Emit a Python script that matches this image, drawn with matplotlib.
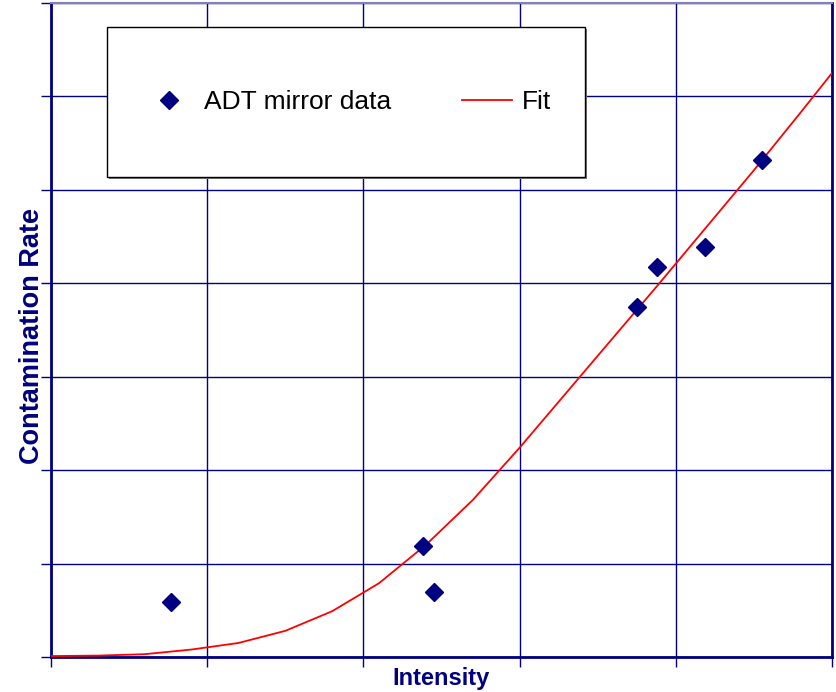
import matplotlib
matplotlib.use("Agg")
import matplotlib.pyplot as plt
from matplotlib.patches import Rectangle
from matplotlib.transforms import offset_copy

# measured points (arbitrary units, no tick labels on original)
data_x = [0.77, 2.38, 2.45, 3.75, 3.88, 4.19, 4.55]
data_y = [0.59, 1.19, 0.70, 3.75, 4.17, 4.39, 5.32]

# fit curve, sampled every 0.3
fit_x = [0.0, 0.3, 0.6, 0.9, 1.2, 1.5, 1.8, 2.1, 2.4, 2.7, 3.0, 3.3, 3.6,
         3.9, 4.2, 4.5, 4.8, 5.1]
fit_y = [0.01, 0.015, 0.03, 0.08, 0.15, 0.28, 0.49, 0.79, 1.2, 1.68, 2.24,
         2.83, 3.42, 4.01, 4.61, 5.21, 5.83, 6.46]

navy = "#000080"
plt.rcParams["font.family"] = ["Liberation Sans", "DejaVu Sans"]

fig = plt.figure(figsize=(8.37, 6.92), dpi=100)
ax = fig.add_axes([51 / 837, 35 / 692, 781 / 837, 654 / 692])

ax.plot(data_x, data_y, "D", color=navy, markersize=9, label="ADT mirror data",
        zorder=4, clip_on=False)
ax.plot(fit_x, fit_y, "-", color="red", lw=1.3, label="Fit", zorder=3)

ax.set_xlim(0, 5)
ax.set_ylim(0, 7)
ax.set_xticks(range(6))
ax.set_yticks(range(8))
ax.set_xticklabels([])
ax.set_yticklabels([])
ax.tick_params(direction="out", length=7, width=1, color=navy)
ax.grid(True, color=navy, lw=1)
ax.set_axisbelow(True)
for side in ["left", "bottom", "right"]:
    ax.spines[side].set_color(navy)
    ax.spines[side].set_linewidth(2)
ax.spines["top"].set_color("#8080c0")
ax.spines["top"].set_linewidth(1.5)

# axis titles placed where the original has them
fig.text(441 / 837, 1 - 679 / 692, "Intensity", fontsize=17, fontweight="bold",
         color=navy, ha="center", va="center")
fig.text(32 / 837, 1 - 336 / 692, "Contamination Rate", fontsize=19.5,
         fontweight="bold", color=navy, ha="center", va="center", rotation=90)

# legend box with a small shadow
bx0, by0, bw, bh = 56 / 781, 480 / 654, 478 / 781, 150 / 654
shadow_tr = offset_copy(ax.transAxes, fig=fig, x=2, y=-2, units="dots")
ax.add_patch(Rectangle((bx0, by0), bw, bh, transform=shadow_tr,
                       facecolor="#808080", edgecolor="none", zorder=5))
ax.add_patch(Rectangle((bx0, by0), bw, bh, transform=ax.transAxes,
                       facecolor="white", edgecolor="black", lw=1, zorder=6))
leg = ax.legend(loc="center", bbox_to_anchor=(bx0 + bw / 2 + 0.002, by0 + bh / 2),
                ncol=2, frameon=False, fontsize=19, handlelength=1.9,
                handletextpad=0.35, columnspacing=2.7)
leg.set_zorder(7)

fig.savefig("out.png", dpi=100)
